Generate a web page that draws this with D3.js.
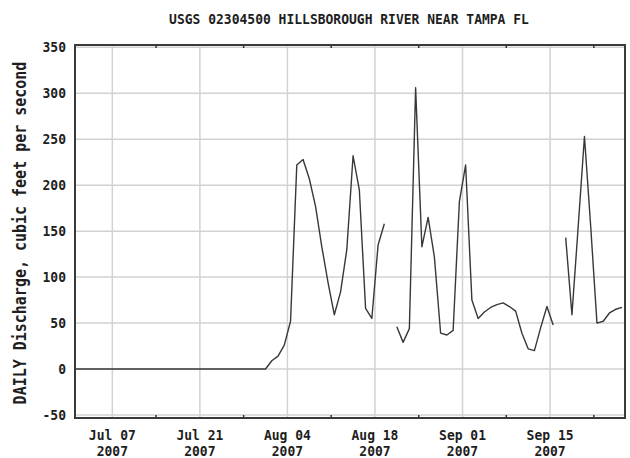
<!DOCTYPE html>
<html><head><meta charset="utf-8">
<script src="https://cdn.jsdelivr.net/npm/d3@7"></script>
<style>body{margin:0;background:#fff}svg{display:block}</style></head>
<body><svg id="c" width="630" height="458"></svg>
<script>
const titleText = "USGS 02304500 HILLSBOROUGH RIVER NEAR TAMPA FL";
const yLabelText = "DAILY Discharge, cubic feet per second";
const startDate = "2007-07-01";
// daily discharge, one value per day starting at startDate (null = missing)
const discharge = [
  0,0,0,0,0,0,0,0,0,0, 0,0,0,0,0,0,0,0,0,0, 0,0,0,0,0,0,0,0,0,0, 0,0,
  9,14,26,52,222,228,207,177,133,94,59,84,130,232,195,66,55,135,158,
  null,
  46,29,44,306,133,165,122,39,37,42,182,222,75,55,62,67,70,72,68,63,39,22,20,45,68,48,
  null,
  143,59,155,253,155,50,52,61,65,67
];
const yTicks = [-50,0,50,100,150,200,250,300,350];
const majorTickDates = ["2007-07-07","2007-07-21","2007-08-04","2007-08-18","2007-09-01","2007-09-15"];
const majorTickLabels = [["Jul 07","2007"],["Jul 21","2007"],["Aug 04","2007"],["Aug 18","2007"],["Sep 01","2007"],["Sep 15","2007"]];
const minorTickDates = ["2007-07-14","2007-07-28","2007-08-11","2007-08-25","2007-09-08","2007-09-22"];
const xDomain = ["2007-07-01","2007-09-27"];

const parse = d3.utcParse("%Y-%m-%d");
const svg = d3.select("#c");
const font = "'DejaVu Sans Mono', monospace";
const ink = "#1e1e1e";

const frame = {l:75, r:625, t:45, b:418};
const x = d3.scaleUtc().domain(xDomain.map(parse)).range([74.8, 625.1]);
const y = d3.scaleLinear().domain([-50, 350]).range([415, 47.3]);

// gridlines
const g = svg.append("g");
g.selectAll(".hg").data(yTicks).join("line")
  .attr("x1", frame.l).attr("x2", frame.r)
  .attr("y1", d => y(d)).attr("y2", d => y(d))
  .attr("stroke", "#d2d2d2").attr("stroke-width", 1.5);
g.selectAll(".vg").data(majorTickDates).join("line")
  .attr("x1", d => x(parse(d))).attr("x2", d => x(parse(d)))
  .attr("y1", frame.t).attr("y2", frame.b)
  .attr("stroke", "#d2d2d2").attr("stroke-width", 1.5);

// minor ticks on top/bottom frame
minorTickDates.forEach(d => {
  const xx = x(parse(d));
  svg.append("line").attr("x1", xx).attr("x2", xx).attr("y1", frame.t).attr("y2", frame.t + 3)
    .attr("stroke", "#333").attr("stroke-width", 1.5);
  svg.append("line").attr("x1", xx).attr("x2", xx).attr("y1", frame.b - 3).attr("y2", frame.b)
    .attr("stroke", "#333").attr("stroke-width", 1.5);
});

// data line
svg.append("clipPath").attr("id", "clip").append("rect")
  .attr("x", frame.l).attr("y", frame.t).attr("width", frame.r - frame.l).attr("height", frame.b - frame.t);
const start = parse(startDate);
const pts = discharge.map((v, i) => ({date: d3.utcDay.offset(start, i), v}));
const line = d3.line()
  .defined(d => d.v != null)
  .x(d => x(d3.utcHour.offset(d.date, -12)))
  .y(d => y(d.v));
svg.append("path").datum(pts).attr("clip-path", "url(#clip)")
  .attr("d", line).attr("fill", "none")
  .attr("stroke", "#383838").attr("stroke-width", 1.4).attr("stroke-linejoin", "round");

// frame
svg.append("rect").attr("x", frame.l).attr("y", frame.t)
  .attr("width", frame.r - frame.l).attr("height", frame.b - frame.t)
  .attr("fill", "none").attr("stroke", "#3a3a3a").attr("stroke-width", 2);

function label(px, py, txt, anchor, size, sy) {
  return svg.append("text")
    .attr("transform", `translate(${px},${py}) scale(1,${sy})`)
    .attr("text-anchor", anchor).attr("font-family", font).attr("font-weight", "bold")
    .attr("font-size", size).attr("fill", ink).text(txt);
}

// y tick labels
yTicks.forEach(d => label(66, y(d) + 5, d, "end", 13, 1.15));

// x tick labels (two lines each)
majorTickDates.forEach((d, i) => {
  const xx = x(parse(d));
  label(xx, 440, majorTickLabels[i][0], "middle", 13, 1.08);
  label(xx, 456, majorTickLabels[i][1], "middle", 13, 1.08);
});

// title
label(349, 24, titleText, "middle", 13, 1.15);

// y axis label
svg.append("text").attr("transform", "translate(26,233) rotate(-90) scale(1,1.12)")
  .attr("text-anchor", "middle").attr("font-family", font).attr("font-weight", "bold")
  .attr("font-size", 15).attr("fill", ink).text(yLabelText);
</script></body></html>
